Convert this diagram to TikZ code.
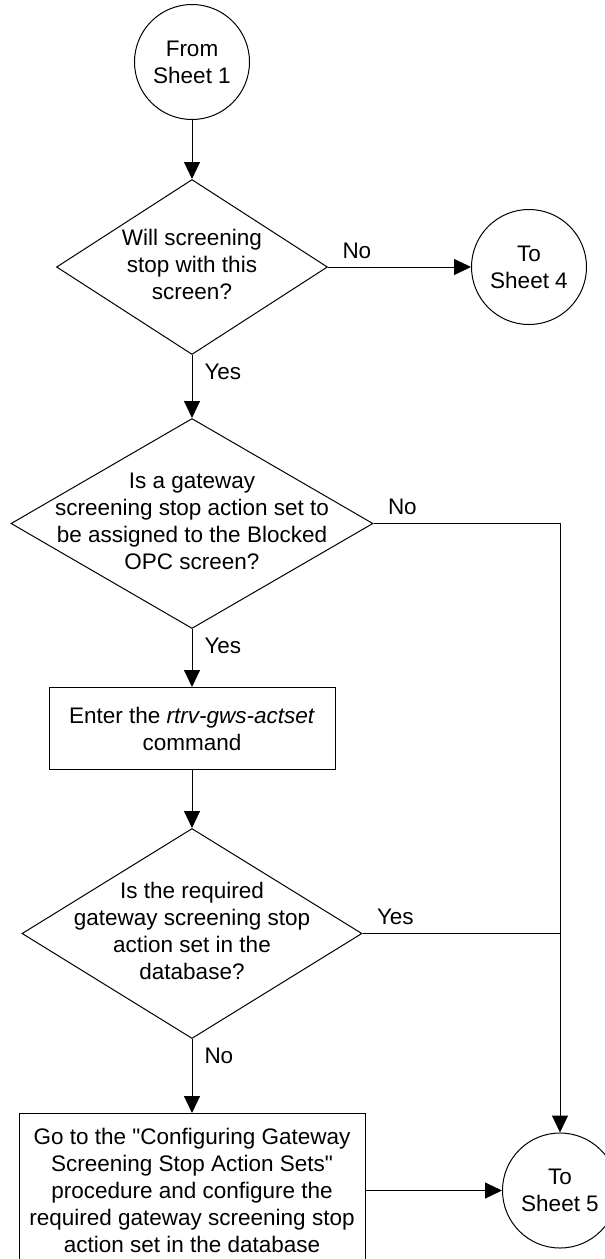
\documentclass[tikz,border=0pt]{standalone}
\usepackage{fontspec}
\setmainfont{Liberation Sans}
\usetikzlibrary{arrows.meta,positioning,shapes.geometric}
\newcommand{\chartfont}{\fontsize{22.5}{27}\selectfont}
\newcommand{\qtext}[1]{\makebox[0pt]{\smash{\raisebox{-0.25em}{\begin{tabular}{@{}c@{}}#1\end{tabular}}}}}

\begin{document}
\begin{tikzpicture}[
  x=1pt,y=1pt,
  conn/.style={circle,draw,line width=1pt,minimum size=115pt,inner sep=0pt,align=center,font=\chartfont},
  decision/.style={diamond,draw,line width=1pt,inner sep=0pt,font=\chartfont},
  proc/.style={rectangle,draw,line width=1pt,align=center,font=\chartfont},
  lbl/.style={inner sep=0pt,font=\chartfont},
  arrow/.style={-{Triangle[length=17pt,width=16pt]},line width=1pt},
  plainline/.style={line width=1pt}
]
\useasboundingbox (0,0) rectangle (605,-1259);
\node[conn] (start) at (192,-62) {From\\Sheet 1};
\node[decision,minimum width=271pt,minimum height=175pt,below=59pt of start] (stopq) {\qtext{Will screening\\stop with this\\screen?}};
\node[conn,right=143pt of stopq] (sheetfour) {To\\Sheet 4};
\node[decision,minimum width=362pt,minimum height=210pt,below=63pt of stopq] (gwsq) {\qtext{Is a gateway\\screening stop action set to\\be assigned to the Blocked\\OPC screen?}};
\node[proc,minimum width=286pt,minimum height=82pt,below=58pt of gwsq] (rtrv) {Enter the \textit{rtrv-gws-actset}\\command};
\node[decision,minimum width=340pt,minimum height=210pt,below=58pt of rtrv] (inq) {\qtext{Is the required\\gateway screening stop\\action set in the\\database?}};
\node[proc,minimum width=346pt,minimum height=154pt,below=74pt of inq] (config) {Go to the \textquotedbl Configuring Gateway\\Screening Stop Action Sets\textquotedbl\\procedure and configure the\\required gateway screening stop\\action set in the database};
\node[conn,right=136.5pt of config] (sheetfive) {To\\Sheet 5};
\coordinate (join) at (inq.east -| sheetfive);
\draw[arrow] (start) -- (stopq);
\draw[arrow] (stopq.east) -- node[lbl,at start,above right=8pt and 14pt] {No} (sheetfour);
\draw[arrow] (stopq.south) -- node[lbl,at start,below right=9pt and 12pt] {Yes} (gwsq.north);
\draw[arrow] (gwsq.east) -| node[lbl,at start,above right=8pt and 14pt] {No} (sheetfive.north);
\draw[arrow] (gwsq.south) -- node[lbl,at start,below right=9pt and 12pt] {Yes} (rtrv);
\draw[arrow] (rtrv) -- (inq);
\draw[plainline] (inq.east) -- node[lbl,at start,above right=8pt and 14pt] {Yes} (join);
\draw[arrow] (inq.south) -- node[lbl,at start,below right=9pt and 12pt] {No} (config);
\draw[arrow] (config) -- (sheetfive);
\end{tikzpicture}
\end{document}
